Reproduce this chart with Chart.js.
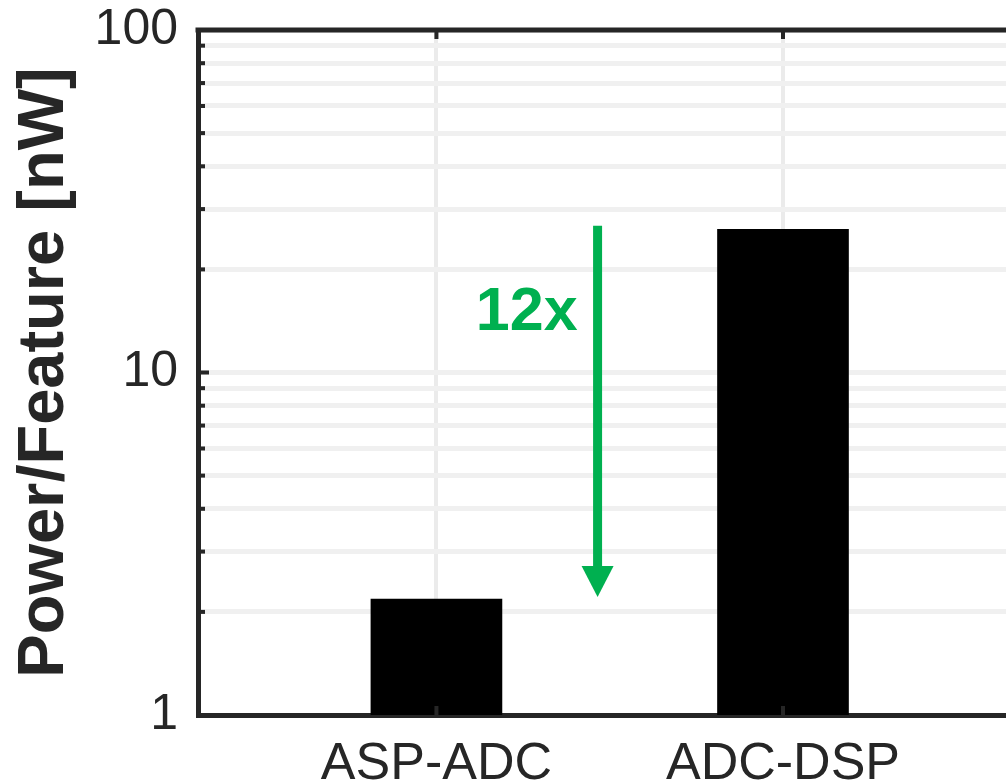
<!DOCTYPE html>
<html>
<head>
<meta charset="utf-8">
<script src="https://cdn.jsdelivr.net/npm/chart.js@4.4.0/dist/chart.umd.min.js"></script>
<style>
  html, body { margin: 0; padding: 0; background: #fff; overflow: hidden; }
  /* the box runs on past the right edge of the window, like the cropped figure */
  #wrap { position: absolute; left: 0; top: 0; width: 1100px; height: 784px; }
</style>
</head>
<body>
<div id="wrap"><canvas id="powerChart"></canvas></div>
<script>
const categories = ['ASP-ADC', 'ADC-DSP'];
const powerPerFeature = [2.18, 26.2]; // nW
const yTickValues = [1, 2, 3, 4, 5, 6, 7, 8, 9, 10, 20, 30, 40, 50, 60, 70, 80, 90, 100];
const yTickLabels = { 1: '1', 10: '10', 100: '100' };

// the green "12x" arrow, in data units
const arrowX = 1.465;
const arrowFrom = 26.8;
const arrowTo = 2.21;
const ratioLabel = '12x';
const ratioLabelY = 13.3;

const axisColor = '#262626';
const green = '#00b050';
const fontFamily = '"Liberation Sans", Arial, Helvetica, sans-serif';

// box top edge, inward ticks and the arrow annotation
const boxAndArrow = {
  id: 'boxAndArrow',
  afterDatasetsDraw(chart) {
    const { ctx, chartArea: a, scales: { x, y } } = chart;
    ctx.save();
    ctx.strokeStyle = axisColor;
    ctx.lineWidth = 5;
    ctx.beginPath();
    ctx.moveTo(a.left - 2.5, a.top);
    ctx.lineTo(a.right, a.top);
    ctx.stroke();

    ctx.lineWidth = 4;
    yTickValues.forEach(v => {
      const py = y.getPixelForValue(v);
      const len = yTickLabels[v] ? 11 : 7;
      ctx.beginPath();
      ctx.moveTo(a.left, py);
      ctx.lineTo(a.left + len, py);
      ctx.stroke();
    });
    categories.forEach((c, i) => {
      const px = x.getPixelForValue(i + 1);
      ctx.beginPath();
      ctx.moveTo(px, a.bottom);
      ctx.lineTo(px, a.bottom - 9);
      ctx.moveTo(px, a.top);
      ctx.lineTo(px, a.top + 9);
      ctx.stroke();
    });

    // arrow
    const ax = x.getPixelForValue(arrowX);
    const yTop = y.getPixelForValue(arrowFrom);
    const yTip = y.getPixelForValue(arrowTo);
    const headH = 31, headW = 32;
    ctx.strokeStyle = green;
    ctx.fillStyle = green;
    ctx.lineWidth = 9;
    ctx.beginPath();
    ctx.moveTo(ax, yTop);
    ctx.lineTo(ax, yTip - headH + 2);
    ctx.stroke();
    ctx.beginPath();
    ctx.moveTo(ax - headW / 2, yTip - headH);
    ctx.lineTo(ax + headW / 2, yTip - headH);
    ctx.lineTo(ax, yTip);
    ctx.closePath();
    ctx.fill();

    ctx.font = 'bold 61px ' + fontFamily;
    ctx.textAlign = 'right';
    ctx.textBaseline = 'alphabetic';
    ctx.fillText(ratioLabel, ax - 20, y.getPixelForValue(ratioLabelY));
    ctx.restore();
  }
};

const ctx = document.getElementById('powerChart').getContext('2d');
const powerChart = new Chart(ctx, {
  type: 'bar',
  data: {
    datasets: [{
      data: categories.map((c, i) => ({ x: i + 1, y: powerPerFeature[i] })),
      backgroundColor: '#000000',
      borderWidth: 0,
      barThickness: 131
    }]
  },
  options: {
    responsive: true,
    maintainAspectRatio: false,
    animation: false,
    layout: { padding: { top: 30, right: 20, bottom: 0, left: 0 } },
    plugins: {
      legend: { display: false },
      tooltip: { enabled: false }
    },
    scales: {
      x: {
        type: 'linear',
        min: 0.312,
        max: 2.857,
        offset: false,
        afterBuildTicks: scale => { scale.ticks = categories.map((c, i) => ({ value: i + 1 })); },
        afterFit: scale => {
          scale.height = 69;
          scale.paddingLeft = 0;
          scale.paddingRight = 0;
        },
        grid: { offset: false, color: '#ebebeb', lineWidth: 4, drawTicks: false },
        border: { display: true, color: axisColor, width: 5 },
        ticks: {
          autoSkip: false,
          maxRotation: 0,
          padding: 18,
          color: axisColor,
          font: { family: fontFamily, size: 52 },
          callback: value => categories[value - 1]
        }
      },
      y: {
        type: 'logarithmic',
        min: 1,
        max: 100,
        afterBuildTicks: scale => { scale.ticks = yTickValues.map(v => ({ value: v })); },
        afterFit: scale => {
          scale.width = 198;
          scale.paddingTop = 0;
          scale.paddingBottom = 0;
        },
        grid: { color: '#f0f0f0', lineWidth: 5, drawTicks: false },
        border: { display: true, color: axisColor, width: 5 },
        ticks: {
          autoSkip: false,
          padding: 20,
          color: axisColor,
          font: { family: fontFamily, size: 50 },
          callback: value => yTickLabels[value] || ''
        },
        title: {
          display: true,
          text: 'Power/Feature [nW]',
          color: axisColor,
          padding: { top: 6, bottom: 0 },
          font: { family: fontFamily, size: 65, weight: 'bold' }
        }
      }
    }
  },
  plugins: [boxAndArrow]
});
</script>
</body>
</html>
